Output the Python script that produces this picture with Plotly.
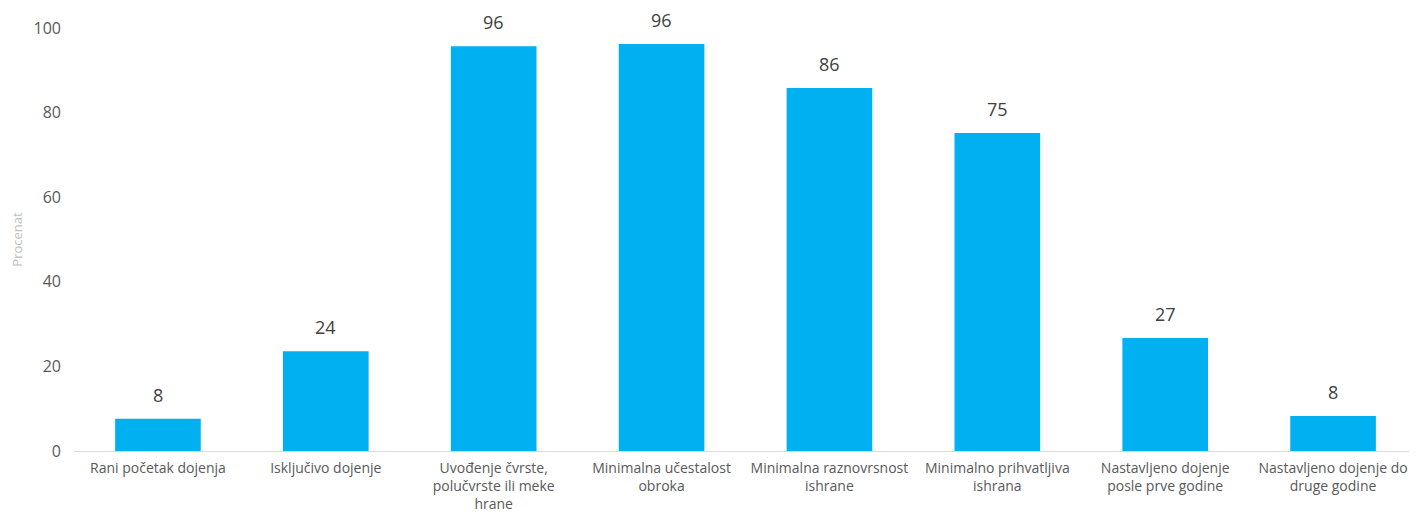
import plotly.graph_objects as go

categories = [
    "Rani početak dojenja",
    "Isključivo dojenje",
    "Uvođenje čvrste,<br>polučvrste ili meke<br>hrane",
    "Minimalna učestalost<br>obroka",
    "Minimalna raznovrsnost<br>ishrane",
    "Minimalno prihvatljiva<br>ishrana",
    "Nastavljeno dojenje<br>posle prve godine",
    "Nastavljeno dojenje do<br>druge godine",
]
values = [7.6, 23.6, 95.7, 96.2, 85.8, 75.2, 26.7, 8.3]
labels = ["8", "24", "96", "96", "86", "75", "27", "8"]
y_ticks = [0, 20, 40, 60, 80, 100]

fig = go.Figure(go.Bar(
    x=categories,
    y=values,
    marker=dict(color="#00B0F0", line=dict(width=0)),
    width=0.51,
    hoverinfo="x+y",
))

for c, v, t in zip(categories, values, labels):
    fig.add_annotation(
        x=c, y=v, text=t, showarrow=False, yanchor="bottom", yshift=10,
        font=dict(size=18, color="#404040"),
    )

fig.update_layout(
    width=1409, height=504,
    margin=dict(l=66, r=0, t=20, b=61),
    paper_bgcolor="white", plot_bgcolor="white",
    font=dict(family="Open Sans, Liberation Sans, sans-serif", color="#595959", size=14),
    showlegend=False,
    xaxis=dict(
        showline=True, linecolor="#d9d9d9", linewidth=1,
        showgrid=False, ticks="", tickangle=0, ticklabelstandoff=4,
        tickfont=dict(size=14, color="#595959"),
        automargin=False,
    ),
    yaxis=dict(
        range=[0, 100], tickvals=y_ticks, showgrid=False, zeroline=False,
        showline=False, ticks="", ticklen=0, ticklabelstandoff=12,
        tickfont=dict(size=16, color="#595959"),
        title=dict(text="Procenat", font=dict(size=13, color="#bfbfbf"), standoff=12),
        automargin=False,
    ),
)

fig.write_html("out.html")
